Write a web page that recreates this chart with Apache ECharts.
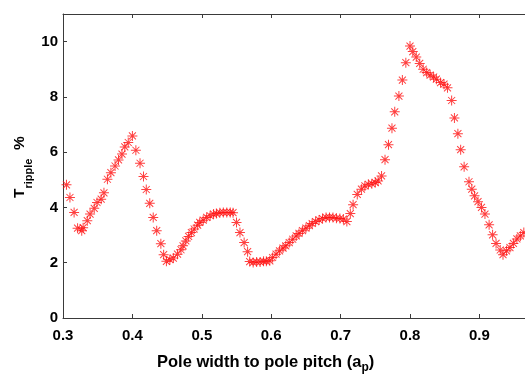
<!DOCTYPE html>
<html>
<head>
<meta charset="utf-8">
<script src="https://cdn.jsdelivr.net/npm/echarts@6/dist/echarts.min.js"></script>
<style>
  html, body { margin: 0; padding: 0; background: #fff; }
  #chart { width: 525px; height: 374px; }
</style>
</head>
<body>
<div id="chart"></div>
<script>
// pole width / pole pitch ratio
const ratio = [
  0.305, 0.310, 0.316, 0.321, 0.327, 0.329, 0.335, 0.339, 0.345, 0.349,
  0.355, 0.359, 0.364, 0.369, 0.375, 0.380, 0.385, 0.389, 0.394, 0.400,
  0.405, 0.411, 0.416, 0.420, 0.425, 0.430, 0.435, 0.441, 0.445, 0.449,
  0.454, 0.459, 0.465, 0.470, 0.473, 0.477, 0.481, 0.485, 0.489, 0.494,
  0.497, 0.502, 0.507, 0.512, 0.517, 0.521, 0.526, 0.531, 0.536, 0.541,
  0.545, 0.550, 0.555, 0.561, 0.566, 0.569, 0.574, 0.579, 0.584, 0.589,
  0.593, 0.598, 0.602, 0.607, 0.612, 0.617, 0.621, 0.626, 0.631, 0.636,
  0.640, 0.645, 0.650, 0.655, 0.659, 0.664, 0.669, 0.674, 0.679, 0.684,
  0.689, 0.694, 0.699, 0.704, 0.709, 0.714, 0.718, 0.724, 0.730, 0.735,
  0.740, 0.745, 0.750, 0.754, 0.759, 0.764, 0.769, 0.774, 0.778, 0.784,
  0.789, 0.794, 0.800, 0.804, 0.809, 0.814, 0.819, 0.824, 0.829, 0.834,
  0.838, 0.844, 0.849, 0.854, 0.860, 0.864, 0.869, 0.873, 0.878, 0.885,
  0.889, 0.893, 0.898, 0.903, 0.908, 0.914, 0.919, 0.924, 0.930, 0.934,
  0.939, 0.944, 0.949, 0.954, 0.959, 0.964
];
// torque ripple in %
const ripple = [
  4.82, 4.36, 3.82, 3.25, 3.16, 3.27, 3.52, 3.76, 3.97, 4.18,
  4.30, 4.53, 5.02, 5.26, 5.50, 5.72, 5.93, 6.19, 6.35, 6.59,
  6.07, 5.60, 5.12, 4.65, 4.15, 3.64, 3.16, 2.69, 2.29, 2.05,
  2.11, 2.17, 2.31, 2.47, 2.61, 2.79, 2.95, 3.09, 3.22, 3.36,
  3.46, 3.54, 3.64, 3.70, 3.76, 3.78, 3.81, 3.82, 3.82, 3.82,
  3.81, 3.46, 3.09, 2.73, 2.40, 2.04, 2.01, 2.03, 2.03, 2.05,
  2.05, 2.07, 2.19, 2.31, 2.43, 2.53, 2.61, 2.73, 2.85, 2.97,
  3.06, 3.16, 3.25, 3.34, 3.42, 3.49, 3.55, 3.60, 3.64, 3.64,
  3.64, 3.61, 3.60, 3.58, 3.49, 3.78, 4.10, 4.47, 4.66, 4.78,
  4.84, 4.86, 4.90, 4.96, 5.14, 5.73, 6.27, 6.87, 7.46, 8.03,
  8.61, 9.24, 9.84, 9.64, 9.44, 9.21, 9.00, 8.88, 8.79, 8.72,
  8.64, 8.52, 8.46, 8.33, 7.87, 7.24, 6.67, 6.09, 5.47, 4.93,
  4.66, 4.42, 4.21, 4.00, 3.76, 3.37, 3.01, 2.70, 2.46, 2.29,
  2.43, 2.55, 2.70, 2.86, 2.97, 3.09
];

const xMin = 0.3, xMax = 0.9657, xStep = 0.1;
const yMin = 0, yMax = 11, yStep = 2;

// matlab style '*' marker
const star = 'path://M9 0L11 0L11 20L9 20Z M0 9L20 9L20 11L0 11Z ' +
  'M3.7 2.3L17.7 16.3L16.3 17.7L2.3 3.7Z M16.3 2.3L17.7 3.7L3.7 17.7L2.3 16.3Z';

const font = 'Liberation Sans, Arial, sans-serif';
const axisColor = '#3a3a3a';

const chart = echarts.init(document.getElementById('chart'));

chart.setOption({
  animation: false,
  grid: { left: 63, right: 0, top: 14, bottom: 56 },
  xAxis: [{
    type: 'value', min: xMin, max: xMax, interval: xStep,
    axisLine: { show: true, lineStyle: { color: axisColor, width: 1 } },
    axisTick: { show: true, inside: true, length: 4, lineStyle: { color: axisColor } },
    splitLine: { show: false },
    axisLabel: {
      showMaxLabel: false, margin: 10,
      color: '#000', fontWeight: 'bold', fontSize: 15, fontFamily: font,
      formatter: v => v.toFixed(1)
    }
  }, {
    type: 'value', position: 'top', min: xMin, max: xMax, interval: xStep,
    axisLine: { show: true, lineStyle: { color: axisColor, width: 1 } },
    axisTick: { show: true, inside: true, length: 4, lineStyle: { color: axisColor } },
    splitLine: { show: false },
    axisLabel: { show: false }
  }],
  yAxis: {
    type: 'value', min: yMin, max: yMax, interval: yStep,
    axisLine: { show: true, lineStyle: { color: axisColor, width: 1 } },
    axisTick: { show: true, inside: true, length: 4, lineStyle: { color: axisColor } },
    splitLine: { show: false },
    axisLabel: {
      showMaxLabel: false, margin: 5,
      color: '#000', fontWeight: 'bold', fontSize: 15, fontFamily: font
    }
  },
  graphic: [{
    type: 'text', left: 157, top: 354,
    style: {
      text: '{m|Pole width to pole pitch (a}{s|p}{m|)}',
      rich: {
        m: { fontSize: 16.5, fontWeight: 'bold', fontFamily: font, fill: '#000', verticalAlign: 'top', lineHeight: 20 },
        s: { fontSize: 12, fontWeight: 'bold', fontFamily: font, fill: '#000', verticalAlign: 'bottom', lineHeight: 20 }
      }
    }
  }, {
    type: 'text', x: 12, y: 198, rotation: Math.PI / 2,
    style: {
      text: '{m|T}{s|ripple}{m|  %}',
      rich: {
        m: { fontSize: 15.5, fontWeight: 'bold', fontFamily: font, fill: '#000', verticalAlign: 'top', lineHeight: 22 },
        s: { fontSize: 11, fontWeight: 'bold', fontFamily: font, fill: '#000', verticalAlign: 'bottom', lineHeight: 22 }
      }
    }
  }],
  series: [{
    type: 'scatter',
    data: ratio.map((x, i) => [x, ripple[i]]),
    symbol: star,
    symbolSize: 10,
    itemStyle: { color: '#ff1010' },
    silent: true
  }]
});
</script>
</body>
</html>
